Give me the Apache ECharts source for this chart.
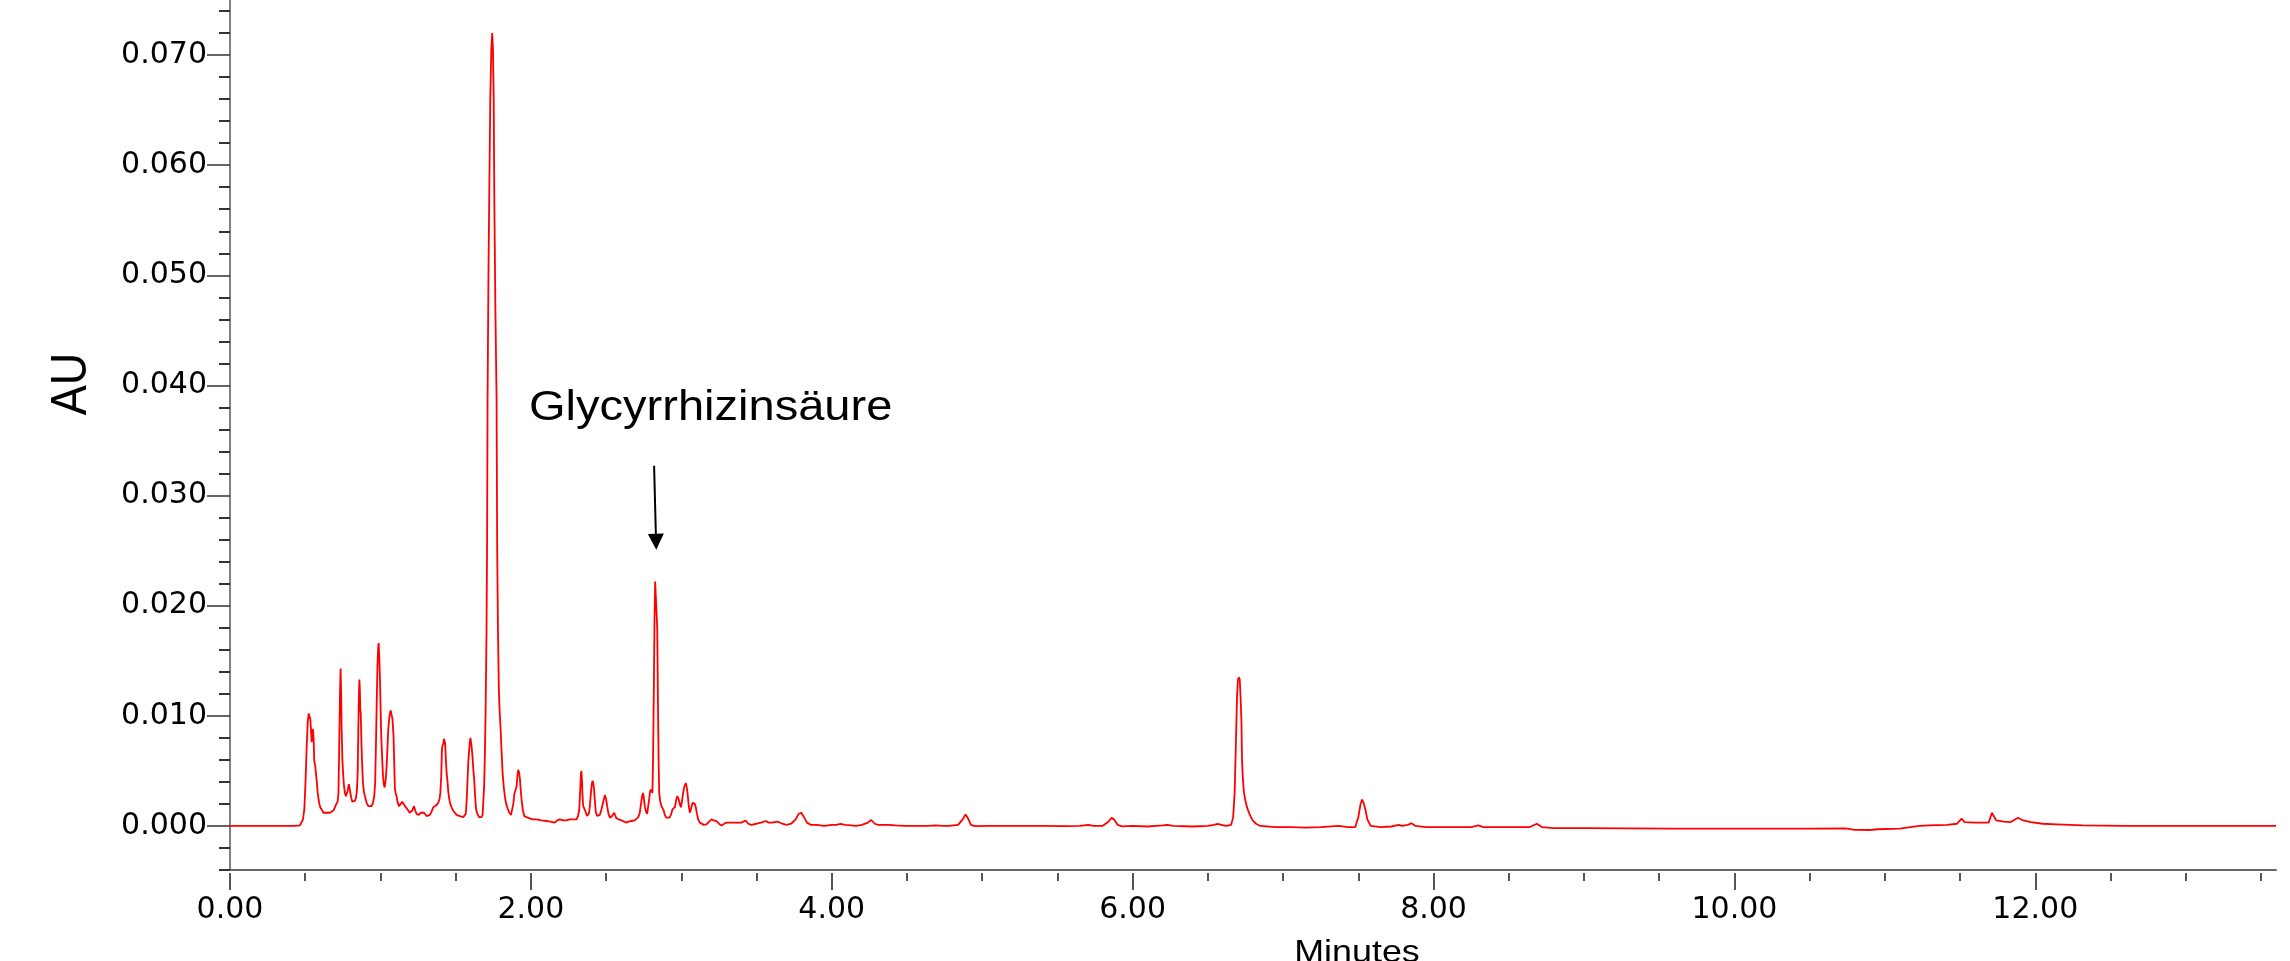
<!DOCTYPE html>
<html>
<head>
<meta charset="utf-8">
<script src="https://cdn.jsdelivr.net/npm/echarts@6/dist/echarts.min.js"></script>
<style>
  html, body { margin: 0; padding: 0; background: #fff; }
  #chart { width: 2290px; height: 961px; }
</style>
</head>
<body>
<div id="chart"></div>
<script>
// chromatogram trace, [minutes, AU]
const startBaseline = [
  [0, 0], [0.2, 0], [0.29, 0], [0.3, -0.00008], [0.31, 0], [0.43, 0], [0.465, 0.00005]
]
const earlyCluster = [
  [0.476, 0.0002], [0.485, 0.0006], [0.494, 0.0015], [0.502, 0.004], [0.51, 0.0073], [0.517, 0.0095],
  [0.523, 0.0102], [0.529, 0.0101], [0.534, 0.0097], [0.539, 0.0085], [0.543, 0.0076], [0.549, 0.0088],
  [0.553, 0.0086], [0.556, 0.0079], [0.56, 0.0059], [0.566, 0.0055], [0.571, 0.0048], [0.577, 0.004],
  [0.583, 0.003], [0.589, 0.0024], [0.594, 0.002], [0.6, 0.0017], [0.609, 0.0015], [0.62, 0.0012],
  [0.631, 0.0011], [0.642, 0.0012], [0.653, 0.0013], [0.664, 0.0012], [0.675, 0.0012], [0.687, 0.0014],
  [0.698, 0.0017], [0.707, 0.002], [0.715, 0.0022], [0.721, 0.003], [0.726, 0.0073], [0.731, 0.012],
  [0.735, 0.0143], [0.739, 0.012], [0.742, 0.0088], [0.747, 0.006], [0.753, 0.0045], [0.758, 0.0036],
  [0.764, 0.003], [0.77, 0.0027], [0.775, 0.0027], [0.782, 0.0032], [0.79, 0.0038], [0.796, 0.0034],
  [0.801, 0.0029], [0.807, 0.0025], [0.813, 0.0022], [0.822, 0.0022], [0.831, 0.0023], [0.838, 0.0026],
  [0.844, 0.0033], [0.849, 0.005], [0.853, 0.0088], [0.857, 0.012], [0.86, 0.0133], [0.863, 0.0125],
  [0.866, 0.0106], [0.869, 0.0102], [0.875, 0.007], [0.88, 0.005], [0.884, 0.0039], [0.89, 0.0031],
  [0.897, 0.0027], [0.908, 0.0021], [0.919, 0.0018], [0.93, 0.0018], [0.941, 0.0018], [0.95, 0.0021],
  [0.959, 0.0027], [0.965, 0.004], [0.97, 0.0073], [0.975, 0.011], [0.98, 0.0145], [0.985, 0.0162],
  [0.988, 0.0166], [0.992, 0.0155], [0.997, 0.0133], [1.002, 0.01], [1.006, 0.0079], [1.012, 0.006],
  [1.017, 0.0045], [1.022, 0.0038], [1.028, 0.0035], [1.035, 0.0042], [1.041, 0.0054], [1.047, 0.0072],
  [1.052, 0.0088], [1.06, 0.01], [1.068, 0.0105], [1.074, 0.0105], [1.08, 0.0097], [1.087, 0.0082],
  [1.091, 0.006], [1.096, 0.0034], [1.101, 0.003], [1.107, 0.0027], [1.115, 0.0021], [1.123, 0.0018],
  [1.134, 0.0019], [1.145, 0.0022], [1.154, 0.002], [1.163, 0.0018], [1.174, 0.0016], [1.185, 0.0014],
  [1.194, 0.0012], [1.202, 0.0012], [1.212, 0.0014], [1.223, 0.0018], [1.231, 0.0014], [1.24, 0.0011],
  [1.256, 0.001], [1.268, 0.0012], [1.28, 0.0013], [1.29, 0.0012], [1.296, 0.0011], [1.307, 0.0009],
  [1.318, 0.0008], [1.329, 0.001], [1.34, 0.0013], [1.351, 0.0017], [1.362, 0.0018], [1.373, 0.0019],
  [1.384, 0.0021]
]
const secondCluster = [
  [1.392, 0.0024], [1.398, 0.003], [1.404, 0.0045], [1.409, 0.007], [1.413, 0.0073], [1.418, 0.0075],
  [1.422, 0.0079], [1.426, 0.0079], [1.43, 0.0075], [1.435, 0.006], [1.44, 0.0048], [1.446, 0.004],
  [1.451, 0.0031], [1.458, 0.0024], [1.464, 0.002], [1.473, 0.0017], [1.482, 0.0014], [1.49, 0.0013],
  [1.506, 0.001], [1.528, 0.0009], [1.55, 0.0008], [1.561, 0.0008], [1.567, 0.0011], [1.572, 0.002],
  [1.576, 0.0032], [1.58, 0.0045], [1.584, 0.0058], [1.588, 0.0066], [1.594, 0.0076], [1.598, 0.008],
  [1.601, 0.0081], [1.606, 0.0072], [1.612, 0.0063], [1.618, 0.005], [1.623, 0.0043], [1.628, 0.003],
  [1.635, 0.0016], [1.641, 0.0012], [1.646, 0.0011], [1.655, 0.0008], [1.661, 0.0008], [1.672, 0.0008],
  [1.679, 0.001]
]
const mainPeak = [
  [1.683, 0.002], [1.689, 0.0035], [1.694, 0.0063], [1.699, 0.0103], [1.705, 0.0175], [1.709, 0.026],
  [1.712, 0.0387], [1.718, 0.05], [1.723, 0.0569], [1.73, 0.0659], [1.737, 0.0705], [1.743, 0.072],
  [1.748, 0.0705], [1.753, 0.0659], [1.757, 0.0569], [1.764, 0.047], [1.772, 0.0387], [1.776, 0.0251],
  [1.781, 0.018], [1.787, 0.0124], [1.792, 0.0105], [1.798, 0.009], [1.805, 0.0068], [1.812, 0.0048],
  [1.82, 0.0035], [1.827, 0.0027], [1.834, 0.0021], [1.845, 0.0016], [1.857, 0.0012], [1.868, 0.001],
  [1.878, 0.001], [1.883, 0.002], [1.89, 0.0029], [1.899, 0.0033], [1.905, 0.0036], [1.911, 0.0046],
  [1.916, 0.0051], [1.921, 0.0049], [1.927, 0.0043], [1.933, 0.0032], [1.938, 0.0024], [1.946, 0.0015],
  [1.956, 0.0009], [1.97, 0.0008], [1.982, 0.0007], [2.01, 0.0006], [2.038, 0.0006], [2.07, 0.0005],
  [2.104, 0.00045], [2.13, 0.0004], [2.159, 0.0003], [2.175, 0.0005], [2.193, 0.0006], [2.215, 0.0005],
  [2.237, 0.0005], [2.259, 0.0006], [2.281, 0.0006], [2.303, 0.0006]
]
const glycyrrhizinRegion = [
  [2.313, 0.0009], [2.321, 0.0014], [2.327, 0.003], [2.333, 0.0048], [2.336, 0.005], [2.34, 0.004],
  [2.344, 0.0025], [2.348, 0.0018], [2.358, 0.0017], [2.366, 0.0012], [2.374, 0.0009], [2.387, 0.0012],
  [2.393, 0.002], [2.399, 0.003], [2.405, 0.0038], [2.41, 0.0041], [2.416, 0.0038], [2.421, 0.0031],
  [2.427, 0.002], [2.432, 0.0012], [2.44, 0.0009], [2.447, 0.00075], [2.458, 0.001], [2.469, 0.0015],
  [2.48, 0.0021], [2.486, 0.0025], [2.492, 0.0028], [2.499, 0.0025], [2.507, 0.0018], [2.516, 0.0011],
  [2.525, 0.00075], [2.54, 0.0009], [2.554, 0.0012], [2.562, 0.0009], [2.569, 0.0007], [2.585, 0.0006],
  [2.602, 0.0005], [2.62, 0.0004], [2.636, 0.0003], [2.65, 0.0004], [2.669, 0.00045], [2.69, 0.0005],
  [2.702, 0.0005], [2.714, 0.0008], [2.724, 0.0012], [2.732, 0.002], [2.739, 0.0027], [2.746, 0.003],
  [2.751, 0.0025], [2.757, 0.0018], [2.765, 0.0013], [2.773, 0.0011], [2.78, 0.0018], [2.786, 0.0024],
  [2.792, 0.0031], [2.797, 0.0033], [2.803, 0.0032], [2.808, 0.003], [2.812, 0.006], [2.817, 0.0121],
  [2.822, 0.019], [2.826, 0.0222], [2.831, 0.0223], [2.835, 0.0222], [2.84, 0.018], [2.844, 0.0121],
  [2.849, 0.006], [2.853, 0.003], [2.86, 0.0022], [2.868, 0.0018], [2.876, 0.0016], [2.883, 0.0014],
  [2.89, 0.001], [2.899, 0.00075], [2.91, 0.0007], [2.921, 0.00075], [2.931, 0.001], [2.941, 0.0015],
  [2.949, 0.0016], [2.957, 0.0017], [2.965, 0.0023], [2.972, 0.0027], [2.978, 0.0026], [2.983, 0.0024],
  [2.99, 0.002], [2.997, 0.0017], [3.005, 0.0023], [3.012, 0.003], [3.02, 0.0036], [3.03, 0.0039],
  [3.036, 0.0035], [3.041, 0.003], [3.048, 0.002], [3.056, 0.0012], [3.062, 0.0014], [3.067, 0.0017],
  [3.075, 0.0021], [3.083, 0.0022], [3.09, 0.002], [3.096, 0.0017], [3.104, 0.0011], [3.112, 0.0006],
  [3.123, 0.0003], [3.134, 0.00015], [3.15, 0.0001], [3.167, 0.00015], [3.18, 0.0003], [3.2, 0.0006],
  [3.215, 0.0005], [3.233, 0.00045], [3.25, 0.0002], [3.267, 0.00005], [3.285, 0.0002], [3.3, 0.0003],
  [3.33, 0.0003], [3.367, 0.0003]
]
const midRun = [
  [3.4, 0.0003], [3.428, 0.0005], [3.445, 0.0002], [3.466, 0.0001], [3.5, 0.0002], [3.53, 0.0003],
  [3.561, 0.00045], [3.58, 0.0003], [3.6, 0.0003], [3.64, 0.0004], [3.67, 0.0002], [3.7, 0.0001],
  [3.73, 0.0002], [3.76, 0.0006], [3.78, 0.0011], [3.798, 0.0012], [3.815, 0.0008], [3.835, 0.0003],
  [3.86, 0.0001], [3.9, 0.0001], [3.95, 0], [4.0, 0.0001], [4.03, 0.0001], [4.057, 0.00018],
  [4.09, 0.0001], [4.13, 0.00005], [4.16, 0], [4.2, 0.0001], [4.24, 0.0003], [4.262, 0.00054],
  [4.285, 0.0002], [4.31, 0.0001], [4.35, 0.0001], [4.38, 0.0001], [4.42, 0.00005], [4.49, 0],
  [4.56, 0], [4.64, 0], [4.69, 0.00005], [4.74, 0], [4.78, 0], [4.84, 0.0001], [4.87, 0.0006],
  [4.889, 0.00105], [4.905, 0.0007], [4.925, 0.0001], [4.95, -0.00002], [5.05, 0], [5.2, 0], [5.3, 0],
  [5.42, 0], [5.55, -0.00002], [5.65, 0], [5.705, 0.0001], [5.74, 0], [5.8, 0], [5.84, 0.0004],
  [5.86, 0.00075], [5.875, 0.0006], [5.9, 0.0001], [5.93, -0.00003], [6.0, 0], [6.1, -0.00005],
  [6.2, 0.00005], [6.23, 0.0001], [6.27, 0], [6.4, -0.00005], [6.5, 0], [6.54, 0.0001], [6.564, 0.00018],
  [6.59, 0.0001], [6.62, 0]
]
const lateCluster = [
  [6.655, 0.0001], [6.668, 0.0008], [6.678, 0.003], [6.687, 0.0079], [6.694, 0.0118], [6.7, 0.0133],
  [6.706, 0.0135], [6.712, 0.0133], [6.718, 0.0115], [6.723, 0.0095], [6.727, 0.006], [6.733, 0.0042],
  [6.74, 0.003], [6.748, 0.0024], [6.758, 0.0018], [6.773, 0.0012], [6.786, 0.0008], [6.798, 0.0005],
  [6.82, 0.0002], [6.849, 0], [6.95, -0.0001], [7.05, -0.0001], [7.15, -0.00015], [7.25, -0.0001],
  [7.37, 0], [7.43, -0.0001], [7.48, -0.0001], [7.5, 0.0008], [7.515, 0.002], [7.525, 0.0024],
  [7.535, 0.0021], [7.547, 0.0015], [7.56, 0.0006], [7.582, 0]
]
const tailRun = [
  [7.65, -0.0001], [7.72, -0.00005], [7.77, 0.0001], [7.79, 0], [7.83, 0.0001], [7.853, 0.00025],
  [7.88, 0], [7.95, -0.0001], [8.1, -0.0001], [8.25, -0.0001], [8.298, 0.00005], [8.33, -0.0001],
  [8.5, -0.0001], [8.64, -0.0001], [8.687, 0.0002], [8.72, -0.0001], [8.8, -0.0002], [9.0, -0.0002],
  [9.3, -0.00022], [9.6, -0.00025], [9.9, -0.00025], [10.2, -0.00025], [10.5, -0.00025], [10.74, -0.00022],
  [10.8, -0.00035], [10.9, -0.00037], [10.95, -0.0003], [11.1, -0.00025], [11.17, -0.0001], [11.23, 0],
  [11.3, 0.00005], [11.415, 0.0001], [11.48, 0.0002], [11.51, 0.00066], [11.53, 0.00035], [11.6, 0.0003],
  [11.69, 0.0003], [11.712, 0.0012], [11.74, 0.0005], [11.79, 0.0004], [11.837, 0.00035], [11.885, 0.00075],
  [11.92, 0.0005], [11.97, 0.00035], [12.05, 0.0002], [12.14, 0.00015], [12.23, 0.0001], [12.317, 0.00005],
  [12.6, 0], [13.0, 0], [13.3, 0], [13.6, 0]
]

// axis ticks
const yTickValues = [0, 0.01, 0.02, 0.03, 0.04, 0.05, 0.06, 0.07]
const yMinorTicks = [-0.004, -0.002, 0.002, 0.004, 0.006, 0.008, 0.012, 0.014, 0.016, 0.018,
  0.022, 0.024, 0.026, 0.028, 0.032, 0.034, 0.036, 0.038, 0.042, 0.044, 0.046, 0.048,
  0.052, 0.054, 0.056, 0.058, 0.062, 0.064, 0.066, 0.068, 0.072, 0.074]
const xTickValues = [0, 2, 4, 6, 8, 10, 12]
const xMinorTicks = [0.5, 1, 1.5, 2.5, 3, 3.5, 4.5, 5, 5.5, 6.5, 7, 7.5, 8.5, 9, 9.5,
  10.5, 11, 11.5, 12.5, 13, 13.5]

// arrow pointing at the Glycyrrhizinsäure peak
const arrowFrom = [2.819, 0.0327]
const arrowTo = [2.832, 0.0258]

const trace = [].concat(startBaseline, earlyCluster, secondCluster, mainPeak,
  glycyrrhizinRegion, midRun, lateCluster, tailRun)

const FONT = '"Liberation Sans", Arial, sans-serif'
const TICK_FONT = '"DejaVu Sans", sans-serif'
const Y_MIN = -0.004
const Y_MAX = 0.075
const X_MIN = 0
const X_MAX = 13.6

const chart = echarts.init(document.getElementById('chart'))

// axis that only carries ticks (no line, no labels)
const tickAxis = (base, values, len, color) => ({
  ...base,
  axisLine: { show: false, onZero: false },
  axisLabel: { show: false },
  splitLine: { show: false },
  axisTick: { show: true, customValues: values, length: len, lineStyle: { color: color, width: 2 } }
})

const option = {
  animation: false,
  backgroundColor: '#fff',
  grid: { left: 230, right: 14, top: 0, bottom: 91, containLabel: false },
  xAxis: [
    {
      type: 'value', min: X_MIN, max: X_MAX,
      axisLine: { show: true, onZero: false, lineStyle: { color: '#666', width: 2 } },
      axisTick: { show: false },
      splitLine: { show: false },
      axisLabel: {
        customValues: xTickValues,
        formatter: v => v.toFixed(2),
        color: '#000', fontFamily: TICK_FONT, fontSize: 30, margin: 25
      }
    },
    // major and minor ticks, a few px under the axis line
    tickAxis({ type: 'value', min: X_MIN, max: X_MAX, position: 'bottom', offset: 3 }, xTickValues, 17, '#555'),
    tickAxis({ type: 'value', min: X_MIN, max: X_MAX, position: 'bottom', offset: 3 }, xMinorTicks, 8, '#555')
  ],
  yAxis: [
    {
      type: 'value', min: Y_MIN, max: Y_MAX,
      axisLine: { show: true, onZero: false, lineStyle: { color: '#808080', width: 2 } },
      axisTick: { show: true, customValues: yTickValues, length: 23, lineStyle: { color: '#333', width: 1.5 } },
      splitLine: { show: false },
      axisLabel: {
        customValues: yTickValues,
        formatter: v => v.toFixed(3),
        color: '#000', fontFamily: TICK_FONT, fontSize: 30, margin: 23
      }
    },
    tickAxis({ type: 'value', min: Y_MIN, max: Y_MAX, position: 'left' }, yMinorTicks, 11, '#333')
  ],
  series: [
    {
      type: 'line',
      data: trace,
      showSymbol: false,
      lineStyle: { color: '#ff0000', width: 1.8 },
      markLine: {
        silent: true,
        symbol: ['none', 'triangle'],
        symbolSize: 16,
        label: { show: false },
        lineStyle: { color: '#000', width: 2, type: 'solid' },
        data: [[{ coord: arrowFrom }, { coord: arrowTo }]]
      }
    }
  ],
  graphic: [
    {
      type: 'text', x: 72, y: 384, rotation: Math.PI / 2, scaleY: 1.12,
      style: { text: 'AU', font: '45px ' + FONT, fill: '#000', textAlign: 'center', textVerticalAlign: 'middle' }
    },
    {
      type: 'text', x: 529, y: 408, scaleX: 1.12,
      style: { text: 'Glycyrrhizinsäure', font: '42px ' + FONT, fill: '#000', textAlign: 'left', textVerticalAlign: 'middle' }
    },
    {
      type: 'text', x: 1357, y: 937, scaleX: 1.12,
      style: { text: 'Minutes', font: '32px ' + FONT, fill: '#000', textAlign: 'center', textVerticalAlign: 'top' }
    }
  ]
}

chart.setOption(option)
</script>
</body>
</html>
